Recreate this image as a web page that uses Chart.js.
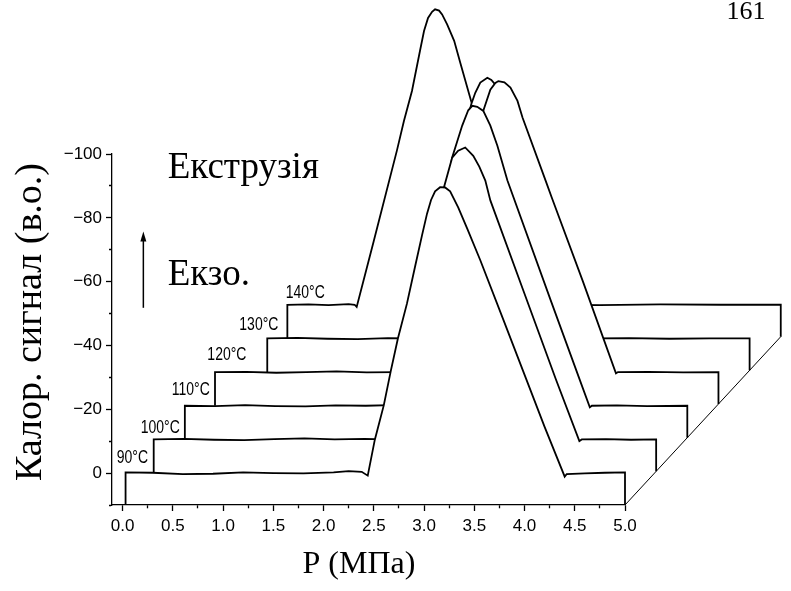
<!DOCTYPE html>
<html>
<head>
<meta charset="utf-8">
<script src="https://cdn.jsdelivr.net/npm/chart.js@4.4.1/dist/chart.umd.min.js"></script>
<style>
  html, body { margin: 0; padding: 0; background: #fff; }
  canvas { display: block; }
</style>
</head>
<body>
<canvas id="chart" width="791" height="591"></canvas>
<script>
// Runs, front (lowest) to back
const temperatures = ['90°C', '100°C', '110°C', '120°C', '130°C', '140°C'];

// Pressure, MPa
const p90  = [0.03, 0.3, 0.6, 0.9, 1.2, 1.5, 1.8, 2.1, 2.25, 2.38, 2.44, 2.51, 2.6, 2.67, 2.74, 2.83, 2.91, 2.98, 3.03, 3.07, 3.11, 3.16, 3.21, 3.26, 3.34, 3.43, 3.56, 3.79, 4.02, 4.2, 4.4, 4.42, 4.6, 4.8, 5.0];
const p100 = [0.0, 0.3, 0.6, 0.9, 1.2, 1.5, 1.8, 2.1, 2.3, 2.34, 2.62, 2.89, 2.97, 3.03, 3.10, 3.18, 3.24, 3.30, 3.35, 3.68, 4.0, 4.236, 4.26, 4.5, 4.75, 5.0];
const p110 = [0.0, 0.3, 0.6, 0.9, 1.2, 1.5, 1.8, 2.05, 2.17, 2.19, 2.42, 2.66, 2.76, 2.82, 2.86, 2.91, 2.97, 3.04, 3.11, 3.21, 3.64, 3.93, 4.03, 4.05, 4.3, 4.6, 5.0];
const p120 = [-0.01, 0.3, 0.6, 0.9, 1.2, 1.5, 1.8, 2.0, 2.04, 2.35, 2.66, 2.73, 2.78, 2.81, 2.87, 2.93, 3.0, 3.05, 3.28, 3.34, 3.65, 3.98, 4.0, 4.3, 4.65, 5.0];
const p130 = [0.2, 0.5, 0.8, 1.1, 1.4, 1.62, 1.65, 1.95, 2.23, 2.27, 2.32, 2.39, 2.43, 2.47, 2.55, 2.7, 3.0, 3.3, 3.45, 3.47, 3.8, 4.2, 4.6, 5.0];
const p140 = [0.09, 0.3, 0.5, 0.7, 0.76, 0.78, 0.95, 1.18, 1.25, 1.33, 1.41, 1.45, 1.49, 1.53, 1.56, 1.60, 1.63, 1.68, 1.75, 1.81, 1.92, 2.3, 2.67, 2.7, 3.2, 3.8, 4.4, 5.0];

// Calorimetric signal, a.u. (exo is negative)
const s90  = [-0.2, -0.1, 0.3, 0.2, -0.2, 0.0, 0.1, -0.2, -0.6, -0.4, 0.8, -10.4, -21.3, -32.1, -42.2, -53.1, -64.6, -74.5, -81.3, -85.6, -88.3, -89.6, -89.5, -88.3, -83.3, -76.6, -66.7, -48.0, -29.2, -14.5, 1.1, 0.3, 0.1, -0.1, -0.2];
const s100 = [0.0, -0.2, 0.1, 0.2, -0.1, -0.3, 0.0, -0.2, 0.0, 0.6, -40, -79.2, -88.3, -90.5, -91.5, -88.9, -85.5, -81.1, -74.9, -46.5, -19.0, 0.5, 0.0, -0.1, 0.1, 0.0];
const s110 = [0.0, 0.1, -0.2, 0.1, 0.2, -0.1, 0.0, -0.2, 0.0, 0.5, -37, -77.8, -87.8, -92.6, -94.0, -93.7, -92.4, -87.8, -81.5, -70.6, -33.1, -8.1, 0.5, 0.0, -0.1, 0.1, 0.0];
const s120 = [0.0, -0.1, 0.2, 0.0, -0.2, 0.1, 0.0, -0.2, 0.5, -40, -81.9, -88.5, -90.6, -91.2, -90.8, -89.2, -85.0, -79.8, -60.0, -54.8, -28.5, 0.4, 0.0, -0.1, 0.1, 0.0];
const s130 = [0.0, -0.2, 0.1, 0.2, -0.1, 0.0, 0.5, -38, -73.4, -77.0, -80.2, -81.7, -81.0, -79.5, -74, -63, -38, -12.5, 0.4, 0.0, -0.1, 0.1, 0.0, 0.0];
const s140 = [0.0, -0.1, 0.1, -0.2, 0.0, 0.7, -20, -48.3, -57.6, -67.0, -79.6, -85.8, -89.9, -91.8, -92.6, -92.2, -91.0, -87.9, -82.7, -75.9, -63.7, -31, 0.4, 0.0, 0.1, -0.1, 0.0, 0.0];

// Axis ranges and ticks
const xRange = [-0.105, 5.0];
const yRange = [-100, 10];
const xMajor = [0.0, 0.5, 1.0, 1.5, 2.0, 2.5, 3.0, 3.5, 4.0, 4.5, 5.0];
const xMinor = [0.25, 0.75, 1.25, 1.75, 2.25, 2.75, 3.25, 3.75, 4.25, 4.75];
const yMajor = [0, -20, -40, -60, -80, -100];
const yMinor = [10, -10, -30, -50, -70, -90];

// Waterfall shift between successive runs and depth of each run's base
const stepP = 0.31;
const stepS = -10.55;
const baseDepth = 10;

const runs = [[p90, s90], [p100, s100], [p110, s110], [p120, s120], [p130, s130], [p140, s140]];

const datasets = runs.map(([p, s], i) => {
  const dx = i * stepP;
  const dy = i * stepS;
  const last = p.length - 1;
  // left edge drops to the run in front (or to the axis for the first run)
  const leftBottom = i === 0 ? baseDepth : dy - stepS;
  const pts = [{ x: p[0] + dx, y: leftBottom }];
  p.forEach((v, j) => pts.push({ x: v + dx, y: s[j] + dy }));
  pts.push({ x: p[last] + dx, y: dy + baseDepth });
  return {
    label: temperatures[i],
    data: pts,
    borderColor: '#000',
    borderWidth: 1.8,
    pointRadius: 0,
    tension: 0,
    fill: { value: dy + baseDepth },
    backgroundColor: '#fff',
    clip: false,
    order: i + 1
  };
});

// right edge of the base plane
const nBack = runs.length - 1;
datasets.push({
  label: 'base',
  data: [
    { x: p90[p90.length - 1], y: baseDepth },
    { x: p140[p140.length - 1] + nBack * stepP, y: baseDepth + nBack * stepS }
  ],
  borderColor: '#000',
  borderWidth: 1,
  pointRadius: 0,
  fill: false,
  clip: false,
  order: 0
});

// Let the white fills extend past the axes box while the runs are painted
const openArea = {
  id: 'openArea',
  beforeDatasetsDraw(chart) {
    chart.$savedArea = chart.chartArea;
    chart.chartArea = { left: 0, top: 0, right: chart.width, bottom: chart.height, width: chart.width, height: chart.height };
  },
  afterDatasetsDraw(chart) {
    chart.chartArea = chart.$savedArea;
  }
};

const serif = '"Liberation Serif", "Times New Roman", serif';

// Text notes: axis titles, run temperatures, direction arrow, captions
const notes = {
  id: 'notes',
  afterDraw(chart) {
    const { ctx } = chart;
    const xs = chart.scales.x, ys = chart.scales.y;
    const X = v => xs.getPixelForValue(v);
    const Y = v => ys.getPixelForValue(v);
    ctx.save();
    ctx.fillStyle = '#000';

    // axis titles
    ctx.textAlign = 'center';
    ctx.textBaseline = 'middle';
    ctx.font = '32px ' + serif;
    ctx.fillText('P (МПа)', 359, 565);
    ctx.save();
    ctx.translate(31, 322);
    ctx.rotate(-Math.PI / 2);
    ctx.font = '38px ' + serif;
    ctx.fillText('Калор. сигнал (в.о.)', 0, 0);
    ctx.restore();

    // run temperatures (tall, narrow lettering)
    ctx.textAlign = 'left';
    ctx.textBaseline = 'alphabetic';
    ctx.font = '14px "Liberation Sans", Arial, sans-serif';
    const tempAt = [[-0.058, -3.1], [0.181, -12.5], [0.49, -24.5], [0.844, -35.5], [1.162, -44.9], [1.624, -54.9]];
    temperatures.forEach((t, i) => {
      ctx.save();
      ctx.translate(X(tempAt[i][0]), Y(tempAt[i][1]));
      ctx.scale(1, 1.3);
      ctx.fillText(t, 0, 0);
      ctx.restore();
    });

    ctx.font = '37px ' + serif;
    ctx.fillText('Екструзія', X(0.45), Y(-92.6));
    ctx.fillText('Екзо.', X(0.45), Y(-59));

    // arrow
    const ax = X(0.207), ay0 = Y(-51.8), ay1 = Y(-75.7);
    ctx.strokeStyle = '#000';
    ctx.lineWidth = 1.5;
    ctx.beginPath();
    ctx.moveTo(ax, ay0);
    ctx.lineTo(ax, ay1 + 6);
    ctx.stroke();
    ctx.beginPath();
    ctx.moveTo(ax, ay1);
    ctx.lineTo(ax - 3, ay1 + 10);
    ctx.lineTo(ax + 3, ay1 + 10);
    ctx.closePath();
    ctx.fill();

    ctx.font = '26px ' + serif;
    ctx.textAlign = 'center';
    ctx.fillText('161', 746, 19);
    ctx.restore();
  }
};

const tickFont = { family: '"Liberation Sans", Arial, sans-serif', size: 17 };
const near = (list, v) => list.some(t => Math.abs(t - v) < 1e-6);

// fixed range (set after data limits so every point of the runs is still drawn)
const fixRange = r => s => { s.min = r[0]; s.max = r[1]; };
const fixTicks = (major, minor) => s => {
  s.ticks = major.concat(minor).sort((a, b) => a - b).map(v => ({ value: v }));
};

new Chart(document.getElementById('chart'), {
  type: 'line',
  data: { datasets },
  plugins: [openArea, notes],
  options: {
    responsive: false,
    animation: false,
    events: [],
    layout: { padding: { left: 0, top: 154, right: 166, bottom: 0 } },
    plugins: { legend: { display: false }, tooltip: { enabled: false } },
    scales: {
      x: {
        type: 'linear',
        bounds: 'data',
        afterDataLimits: fixRange(xRange),
        afterBuildTicks: fixTicks(xMajor, xMinor),
        afterFit: s => { s.height = 86; },
        border: { display: true, color: '#000', width: 1.3, z: 1 },
        grid: {
          drawOnChartArea: false,
          drawTicks: true,
          tickLength: 6,
          tickColor: '#000',
          tickWidth: 1.3,
          tickBorderDash: c => (near(xMajor, c.tick.value) ? [] : [3, 20])
        },
        ticks: {
          autoSkip: false,
          maxRotation: 0,
          padding: 5,
          color: '#000',
          font: tickFont,
          callback: v => (near(xMajor, v) ? v.toFixed(1) : '')
        },
        title: { display: false }
      },
      y: {
        type: 'linear',
        bounds: 'data',
        reverse: true,
        afterDataLimits: fixRange(yRange),
        afterBuildTicks: fixTicks(yMajor, yMinor),
        afterFit: s => { s.width = 112; },
        border: { display: true, color: '#000', width: 1.3, z: 1 },
        grid: {
          drawOnChartArea: false,
          drawTicks: true,
          tickLength: 6,
          tickColor: '#000',
          tickWidth: 1.3,
          tickBorderDash: c => (near(yMajor, c.tick.value) ? [] : [0, 3, 3, 20])
        },
        ticks: {
          autoSkip: false,
          padding: 4,
          color: '#000',
          font: tickFont,
          callback: v => (near(yMajor, v) ? (v === 0 ? '0' : '\u2212' + Math.abs(v)) : '')
        },
        title: { display: false }
      }
    }
  }
});
</script>
</body>
</html>
